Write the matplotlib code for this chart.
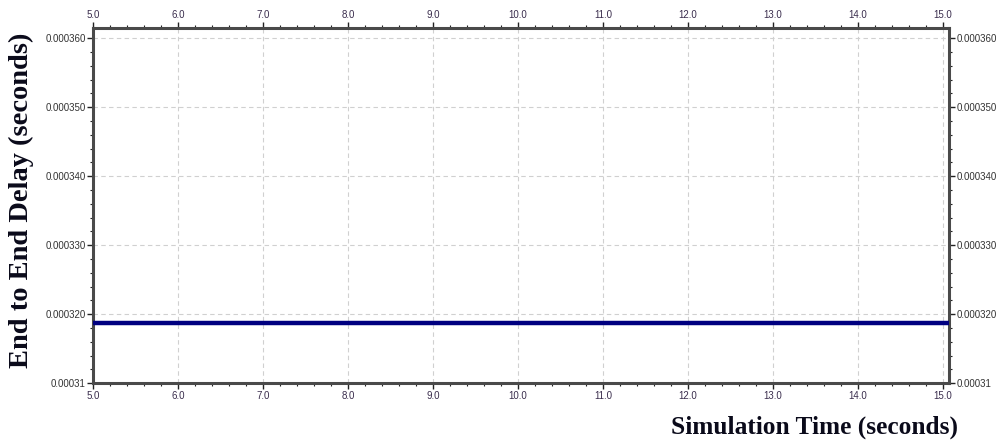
import numpy as np
import matplotlib.pyplot as plt
from matplotlib.ticker import FixedLocator, FixedFormatter, AutoMinorLocator

# simulation time samples (seconds) and end-to-end delay (seconds)
sim_time = [5.0, 6.0, 7.0, 8.0, 9.0, 10.0, 11.0, 12.0, 13.0, 14.0, 15.07]
delay = [0.0003187] * len(sim_time)

x_ticks = [5.0, 6.0, 7.0, 8.0, 9.0, 10.0, 11.0, 12.0, 13.0, 14.0, 15.0]
y_ticks = [0.00031, 0.00032, 0.00033, 0.00034, 0.00035, 0.00036]
y_tick_labels = ["0.00031", "0.000320", "0.000330", "0.000340", "0.000350", "0.000360"]

fig = plt.figure(figsize=(10.02, 4.43), dpi=100)
ax = fig.add_axes([0.093, 0.135, 0.854, 0.802])

ax.plot(sim_time, delay, color="#000080", linewidth=3.2, solid_capstyle="butt", zorder=3)

ax.set_xlim(5.0, 15.07)
ax.set_ylim(0.00031, 0.0003615)

ax.xaxis.set_major_locator(FixedLocator(x_ticks))
ax.xaxis.set_major_formatter(FixedFormatter([f"{t:.1f}" for t in x_ticks]))
ax.xaxis.set_minor_locator(AutoMinorLocator(5))
ax.yaxis.set_major_locator(FixedLocator(y_ticks))
ax.yaxis.set_major_formatter(FixedFormatter(y_tick_labels))
ax.yaxis.set_minor_locator(AutoMinorLocator(5))

ax.tick_params(which="both", direction="out", top=True, right=True,
               labeltop=True, labelright=True, colors="#222222")
ax.tick_params(which="major", length=4, width=1.0, labelsize=7, pad=1.5)
ax.tick_params(which="minor", length=2.5, width=0.8)
for lbl in ax.get_xticklabels(which="both"):
    lbl.set_color("#3a2d4d")
for lbl in ax.get_yticklabels(which="both"):
    lbl.set_color("#333333")
plt.setp(ax.get_xticklabels() + ax.get_yticklabels(), family="Liberation Sans")

ax.grid(True, which="major", linestyle=(0, (4, 3)), color="#d0d0d0", linewidth=0.8)

for side, sp in ax.spines.items():
    sp.set_linewidth(2.2)
    sp.set_color("#4a4a4a")

fig.text(0.021, 0.548, "End to End Delay (seconds)", rotation=90, ha="center", va="center",
         family="Liberation Serif", fontweight="bold", fontsize=20.5, color="#0a0a1a")
fig.text(0.813, 0.036, "Simulation Time (seconds)", ha="center", va="center",
         family="Liberation Serif", fontweight="bold", fontsize=18.3, color="#0a0a1a")

fig.savefig("out.png", dpi=100)
